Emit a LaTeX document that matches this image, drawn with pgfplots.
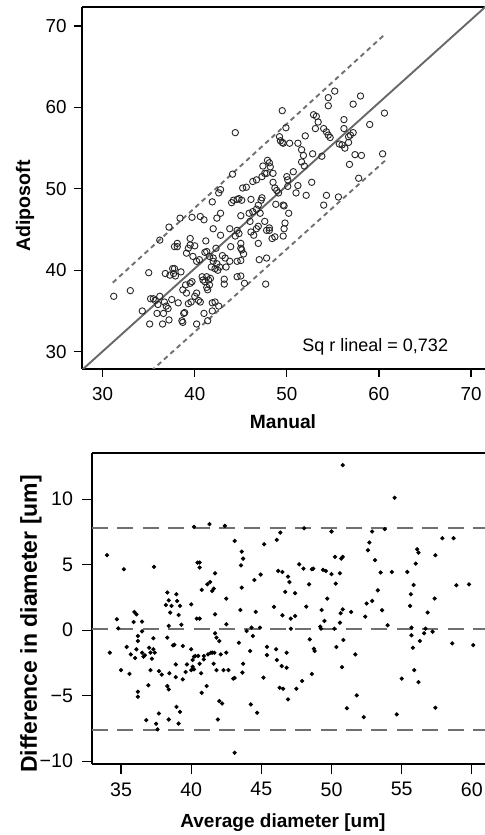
\documentclass[border=0pt]{standalone}
\usepackage{fontspec}
\setmainfont{Liberation Sans}
\usepackage{pgfplots}
\usepackage{pgfplotstable}
\pgfplotsset{compat=1.18}

\definecolor{fitgray}{HTML}{686868}
\definecolor{bandgray}{HTML}{707070}
\definecolor{circ}{HTML}{262626}

% Manual vs Adiposoft
\pgfplotstableread{
x y
31.2 36.8
33.0 37.5
35.0 39.7
34.3 35.0
35.1 33.4
35.2 36.5
35.5 36.5
35.7 36.3
36.2 36.8
36.2 43.7
37.2 45.3
38.4 46.4
39.7 46.5
35.9 34.7
36.5 33.4
36.6 34.7
36.7 36.1
36.9 35.6
37.1 35.3
37.2 33.9
36.8 39.6
37.3 39.4
37.6 40.2
37.7 39.6
37.8 40.2
37.9 39.3
38.5 39.8
37.8 42.9
38.1 42.9
38.1 43.3
39.5 43.9
39.5 43.1
39.3 42.7
40.0 43.0
39.1 42.1
39.8 41.7
40.2 41.1
40.5 41.3
38.7 37.6
39.0 38.2
39.1 37.2
39.5 38.4
39.7 38.6
39.3 35.9
39.6 36.1
38.8 34.7
38.9 34.8
38.6 33.8
38.7 33.6
40.2 33.4
40.0 36.8
40.2 37.2
40.4 36.3
40.6 36.1
40.9 38.8
40.8 39.2
41.3 39.2
41.1 38.6
41.5 38.8
41.7 39.0
41.3 37.9
41.4 37.6
41.0 34.7
41.4 33.8
41.9 36.0
42.2 36.1
41.9 35.0
42.6 35.6
40.6 46.6
41.0 46.2
41.2 43.6
41.1 42.2
41.3 42.3
41.6 41.7
42.0 41.5
42.0 41.1
42.2 40.2
42.4 40.8
42.7 40.4
41.8 40.4
42.3 42.7
42.0 45.1
42.4 46.4
42.8 47.0
42.6 49.5
42.8 49.9
41.9 48.4
42.8 44.3
43.3 41.5
43.4 40.4
43.2 38.9
43.2 38.3
43.8 41.1
43.9 42.9
43.8 45.1
44.0 48.3
44.1 51.8
44.4 56.9
44.2 48.6
44.6 48.7
44.8 48.8
44.4 44.2
44.8 44.5
44.6 44.9
44.6 41.1
45.0 41.2
44.6 39.2
45.0 39.3
45.0 43.3
45.0 42.7
45.1 42.5
45.3 42.0
45.4 38.4
45.1 48.6
45.0 46.7
45.2 50.1
45.6 50.2
46.1 48.7
45.9 47.0
46.0 46.0
46.1 44.7
46.4 44.3
46.3 50.9
46.7 51.1
46.7 47.5
46.9 48.0
47.1 47.0
46.9 45.4
46.7 45.1
46.9 43.3
47.0 41.3
47.3 48.9
47.3 51.5
47.4 52.8
47.6 51.9
47.8 51.9
47.9 53.5
48.1 53.2
48.2 52.7
48.5 51.9
47.6 46.0
47.8 44.9
48.1 44.9
48.1 45.2
47.8 41.5
47.7 38.3
48.4 43.9
48.7 44.1
48.5 50.8
48.7 50.1
49.1 49.5
49.2 56.4
49.3 55.9
49.5 59.6
49.5 55.7
49.9 57.5
49.6 55.6
48.8 48.1
49.6 48.0
49.7 47.9
49.6 44.2
49.7 45.1
49.8 45.8
50.2 47.0
50.0 51.5
50.1 51.1
50.1 50.3
50.3 55.6
50.7 52.1
51.0 49.5
51.2 50.4
51.2 55.6
51.6 54.8
51.6 53.3
51.8 54.1
51.9 52.8
52.1 49.2
52.0 56.5
52.7 50.8
52.8 54.3
52.9 59.1
53.2 58.9
53.1 57.4
53.4 58.2
53.8 54.0
54.0 57.4
54.3 57.0
54.5 56.6
54.7 56.3
54.5 61.2
54.5 60.2
55.2 62.0
54.0 48.0
54.3 49.2
55.6 49.0
55.7 55.5
56.0 55.4
56.2 58.5
56.2 57.4
56.3 55.0
56.7 55.7
56.7 56.4
56.9 56.6
57.2 56.9
57.2 60.4
56.8 53.0
57.4 54.2
58.1 54.1
57.8 51.3
58.0 61.4
59.0 57.9
60.4 54.3
60.6 59.3
36.0 35.8
37.5 36.4
38.2 36.0
41.6 38.2
42.5 40.0
43.0 41.8
46.3 47.2
47.2 48.6
48.9 49.8
}\scatterdata

% Bland-Altman
\pgfplotstableread{
x y
34.0 5.72
34.2 -1.72
34.7 0.83
34.8 0.14
35.0 -3.05
35.2 4.65
35.4 -1.28
35.6 -3.34
35.7 -1.85
35.9 0.62
35.95 1.39
36.1 1.21
36.0 -2.13
36.1 -1.46
36.2 -0.45
36.2 -0.83
36.2 -4.7
36.2 -5.08
36.5 -1.72
36.5 -0.09
36.5 0.65
36.6 -2.02
36.7 -1.92
36.8 -6.87
36.95 -4.21
37.0 -1.34
37.1 -3.05
37.1 -1.72
37.2 -2.18
37.3 -1.46
37.3 -0.62
37.35 4.83
37.4 -1.72
37.5 -7.15
37.6 -7.58
37.7 -6.36
37.7 -3.13
37.9 -3.39
38.2 1.92
38.3 2.87
38.3 -0.57
38.3 -4.27
38.4 -4.52
38.4 2.28
38.4 0.32
38.4 -6.82
38.45 -3.29
38.5 1.34
38.6 1.85
38.7 -1.16
38.8 -1.11
38.9 -3.59
38.9 -2.62
38.95 2.74
38.95 -5.86
39.0 2.23
39.1 1.16
39.1 -7.13
39.2 1.85
39.2 -6.24
39.3 0.42
39.4 -3.76
39.4 -1.21
39.6 -3.19
39.7 -2.62
40.0 1.97
40.0 -1.46
40.0 -3.05
40.1 -2.28
40.1 -2.79
40.2 -3.0
40.2 7.88
40.2 -2.02
40.3 -1.97
40.4 0.88
40.45 5.16
40.5 -1.97
40.6 -2.56
40.6 4.78
40.6 5.16
40.6 0.88
40.7 -3.29
40.75 3.07
40.75 -4.78
40.9 -2.23
40.9 -1.97
41.1 -4.27
41.15 3.5
41.2 -1.85
41.3 8.09
41.35 3.67
41.4 -1.72
41.5 -1.72
41.5 2.99
41.6 3.17
41.6 -2.56
41.65 -1.72
41.7 1.21
41.7 -0.24
41.7 4.34
41.8 -0.57
41.8 -3.05
41.9 -6.82
42.0 -0.83
42.0 -5.41
42.1 -1.85
42.2 -5.6
42.3 -3.05
42.4 7.96
42.5 2.41
42.5 0.45
42.5 -1.72
42.65 -3.05
43.0 -3.7
43.1 6.81
43.1 -9.36
43.1 -3.65
43.4 -0.96
43.5 1.54
43.55 4.95
43.6 5.99
43.6 3.25
43.7 5.46
43.65 -3.24
43.7 -2.56
43.95 -0.06
44.2 -1.59
44.25 -5.67
44.3 0.19
44.4 -0.45
44.5 3.83
44.6 1.39
44.7 -6.31
44.9 0.19
44.95 4.24
45.15 -3.62
45.2 6.56
45.4 -1.28
45.4 -1.9
45.9 1.77
46.05 -1.46
46.1 6.89
46.1 -2.28
46.2 4.52
46.3 -4.4
46.35 7.45
46.45 -2.74
46.5 1.13
46.5 4.44
46.55 -4.47
46.7 2.92
46.8 -2.87
46.8 -1.72
46.9 4.08
46.9 -5.29
47.0 3.67
47.1 0.88
47.1 0.11
47.4 1.08
47.4 2.82
47.5 -4.47
47.7 5.03
47.9 -3.88
48.0 4.7
48.05 7.78
48.2 1.8
48.4 3.5
48.45 -0.7
48.6 4.65
48.6 -3.34
48.7 4.7
48.75 -1.42
48.8 -1.59
49.2 0.27
49.25 0.11
49.3 1.54
49.4 4.6
49.5 0.7
49.6 4.52
49.7 2.41
50.0 4.27
50.0 7.53
50.2 0.11
50.25 5.59
50.3 3.55
50.35 -1.29
50.6 0.57
50.6 4.34
50.65 1.29
50.7 5.46
50.75 -2.82
50.8 5.59
50.8 12.6
50.8 1.59
50.85 -0.75
51.1 -5.96
51.4 1.39
51.7 -1.85
51.8 -4.98
52.3 -6.64
52.4 1.03
52.5 2.03
52.6 6.1
52.7 6.69
52.9 7.53
52.9 2.23
53.1 5.34
53.3 3.04
53.5 4.4
53.6 1.52
53.8 7.71
54.0 0.37
54.3 4.44
54.5 10.1
54.65 -6.43
55.0 -3.7
55.4 4.44
55.6 1.85
55.65 2.74
55.7 0.19
55.7 -0.39
55.8 -1.34
55.85 3.45
55.9 -3.05
56.0 5.08
56.1 6.18
56.2 5.92
56.2 -3.96
56.3 -0.83
56.6 -0.24
56.7 0.11
56.85 1.34
57.2 -0.12
57.35 2.41
57.4 5.72
57.4 -5.92
57.9 7.02
58.6 -1.01
58.7 7.02
58.9 3.42
59.8 3.5
60.1 -1.14
}\badata

\begin{document}
\begin{tikzpicture}
\useasboundingbox (0,0) rectangle (242.5pt,417.5pt);

% top panel
\begin{axis}[
  at={(40.85pt,233pt)}, anchor=south west,
  scale only axis, width=201.65pt, height=181pt,
  xmin=27.72, xmax=71.52, ymin=27.875, ymax=72.33,
  axis x line*=box, axis y line*=left,
  xtick pos=bottom,
  axis line style={black, line width=1.1pt},
  xtick={30,40,50,60,70}, ytick={30,40,50,60,70},
  tick align=outside, major tick length=4pt,
  tick style={black, line width=0.6pt},
  /pgf/number format/assume math mode=true,
  tick label style={font=\fontsize{9.4}{11}\selectfont},
  xticklabel style={yshift=-1.5pt},
  xlabel={\textbf{Manual}},
  ylabel={\textbf{Adiposoft}},
  xlabel style={at={(axis description cs:0.499,-0.146)}, anchor=center, font=\fontsize{9.6}{11}\selectfont},
  ylabel style={at={(axis description cs:-0.1406,0.45)}, anchor=center, rotate=0, font=\fontsize{9.8}{11}\selectfont},
]
\addplot[fitgray, line width=0.95pt] coordinates {(27,26.99) (73,73.81)};
\addplot[bandgray, line width=0.95pt, dash pattern=on 2.4pt off 1.9pt] coordinates {(31.1,38.48) (60.65,68.98)};
\addplot[bandgray, line width=0.95pt, dash pattern=on 2.4pt off 1.9pt] coordinates {(31.1,23.39) (60.65,53.44)};
\addplot[only marks, mark=o, mark size=1.6pt, mark options={draw=circ, line width=0.45pt}] table {\scatterdata};
\node[font=\fontsize{9}{10}\selectfont] at (axis cs:59.6,30.6) {Sq r lineal = 0,732};
\end{axis}

% bottom panel
\begin{axis}[
  at={(46pt,35.35pt)}, anchor=south west,
  scale only axis, width=196.5pt, height=155.5pt,
  xmin=32.93, xmax=60.94, ymin=-10.24, ymax=13.5,
  axis x line*=box, axis y line*=left,
  xtick pos=bottom,
  axis line style={black, line width=1.1pt},
  xtick={35,40,45,50,55,60}, ytick={-10,-5,0,5,10},
  yticklabels={−10,−5,0,5,10},
  tick align=outside, major tick length=5pt,
  tick style={black, line width=0.6pt},
  /pgf/number format/assume math mode=true,
  tick label style={font=\fontsize{9.8}{11}\selectfont},
  xticklabel style={yshift=-0.5pt},
  yticklabel style={xshift=-1pt},
  xlabel={\textbf{Average diameter [um]}},
  ylabel={\textbf{Difference in diameter [um]}},
  xlabel style={at={(axis description cs:0.486,-0.189)}, anchor=center, font=\fontsize{9.5}{11}\selectfont},
  ylabel style={at={(axis description cs:-0.1557,0.451)}, anchor=center, font=\fontsize{11.5}{13}\selectfont},
]
\addplot[bandgray, line width=0.9pt, dash pattern=on 8pt off 4.7pt] coordinates {(32.93,7.82) (60.94,7.82)};
\addplot[bandgray, line width=0.9pt, dash pattern=on 8pt off 4.7pt] coordinates {(32.93,0.1) (60.94,0.1)};
\addplot[bandgray, line width=0.9pt, dash pattern=on 8pt off 4.7pt] coordinates {(32.93,-7.65) (60.94,-7.65)};
\addplot[only marks, mark=*, mark size=0.85pt, mark options={draw=black, fill=black}] table {\badata};
\end{axis}
\end{tikzpicture}
\end{document}
